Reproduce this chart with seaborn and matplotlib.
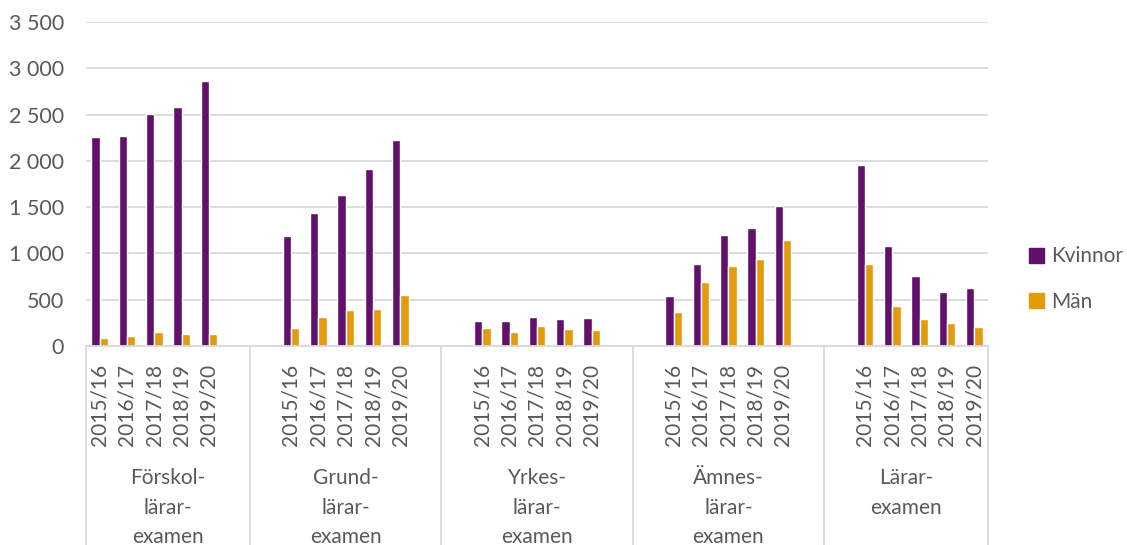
"""Examina inom lärarutbildningen per kön och läsår, stapeldiagram i Excel-stil."""

import matplotlib

matplotlib.use("Agg")
import matplotlib.pyplot as plt
import matplotlib.ticker as mticker
import matplotlib.transforms as mtransforms
from matplotlib.lines import Line2D
import pandas as pd
import seaborn as sns


YEARS = ["2015/16", "2016/17", "2017/18", "2018/19", "2019/20"]
GROUPS = [
    "Förskol-\nlärar-\nexamen",
    "Grund-\nlärar-\nexamen",
    "Yrkes-\nlärar-\nexamen",
    "Ämnes-\nlärar-\nexamen",
    "Lärar-\nexamen",
]
SERIES = ["Kvinnor", "Män"]

KVINNOR_FORSKOL = [2255, 2270, 2505, 2580, 2865]
MAN_FORSKOL = [90, 105, 150, 127, 127]
KVINNOR_GRUND = [1192, 1432, 1635, 1910, 2228]
MAN_GRUND = [192, 315, 390, 402, 555]
KVINNOR_YRKES = [265, 272, 315, 293, 300]
MAN_YRKES = [190, 155, 220, 184, 170]
KVINNOR_AMNES = [540, 890, 1195, 1275, 1512]
MAN_AMNES = [372, 690, 862, 942, 1145]
KVINNOR_LARAR = [1952, 1080, 755, 582, 625]
MAN_LARAR = [885, 437, 292, 250, 206]

KVINNOR = [KVINNOR_FORSKOL, KVINNOR_GRUND, KVINNOR_YRKES, KVINNOR_AMNES, KVINNOR_LARAR]
MAN = [MAN_FORSKOL, MAN_GRUND, MAN_YRKES, MAN_AMNES, MAN_LARAR]

COLORS = {"Kvinnor": "#63106D", "Män": "#E39B0C"}
GREY = "#D9D9D9"
TEXT = "#595959"


def build_slots():
    # Excel-style layout: empty category slots between the groups
    slots, labels, bounds = [], [], [-0.5]
    for gi in range(len(GROUPS)):
        if gi > 0:
            slots.append(f"{gi}|pre")
            labels.append("")
        for year in YEARS:
            slots.append(f"{gi}|{year}")
            labels.append(year)
        if gi < len(GROUPS) - 1:
            slots.append(f"{gi}|post")
            labels.append("")
        bounds.append(len(slots) - 0.5)
    return slots, labels, bounds


def build_dataframe() -> pd.DataFrame:
    rows = []
    for gi in range(len(GROUPS)):
        for yi, year in enumerate(YEARS):
            rows.append({"slot": f"{gi}|{year}", "Kön": "Kvinnor", "antal": KVINNOR[gi][yi]})
            rows.append({"slot": f"{gi}|{year}", "Kön": "Män", "antal": MAN[gi][yi]})
    return pd.DataFrame(rows)


def main() -> None:
    sns.set_theme(style="white")
    plt.rcParams["font.family"] = ["Lato", "DejaVu Sans"]

    slots, labels, bounds = build_slots()
    df = build_dataframe()

    W, H = 1127, 545
    fig = plt.figure(figsize=(W / 100, H / 100), dpi=100)
    left, right, top, bottom = 86, 988, 22, 346
    ax = fig.add_axes([left / W, 1 - bottom / H, (right - left) / W, (bottom - top) / H])

    sns.barplot(
        data=df,
        x="slot",
        y="antal",
        hue="Kön",
        order=slots,
        hue_order=SERIES,
        palette=COLORS,
        width=0.6,
        gap=0,
        errorbar=None,
        saturation=1,
        ax=ax,
        legend=False,
    )

    ax.set_xlim(-0.5, len(slots) - 0.5)
    ax.set_ylim(0, 3500)
    ax.yaxis.set_major_locator(mticker.MultipleLocator(500))
    ax.yaxis.set_major_formatter(mticker.FuncFormatter(lambda v, _: f"{int(v):,}".replace(",", " ")))
    ax.set_xticks(range(len(slots)))
    ax.set_xticklabels(labels, rotation=90)
    ax.tick_params(axis="x", length=0, pad=13, labelsize=15, labelcolor=TEXT)
    ax.tick_params(axis="y", length=0, pad=16, labelsize=15.5, labelcolor=TEXT)
    ax.set_xlabel("")
    ax.set_ylabel("")

    ax.yaxis.grid(True, color=GREY, linewidth=1.3)
    ax.xaxis.grid(False)
    ax.set_axisbelow(True)
    for side in ["left", "top", "right"]:
        ax.spines[side].set_visible(False)
    ax.spines["bottom"].set_color(GREY)
    ax.spines["bottom"].set_linewidth(1.3)

    # multi-level category axis: separators and group names
    trans = mtransforms.blended_transform_factory(ax.transData, ax.transAxes)
    px = 1 / (bottom - top)
    for b in bounds:
        ax.add_line(Line2D([b, b], [0, -(H - bottom) * px], transform=trans,
                           color=GREY, linewidth=1.3, clip_on=False))
    for gi, name in enumerate(GROUPS):
        xc = (bounds[gi] + bounds[gi + 1]) / 2
        ax.text(xc, -(468 - bottom) * px, name, transform=trans, ha="center", va="top",
                fontsize=15, color=TEXT, linespacing=1.6)

    handles = [plt.Rectangle((0, 0), 1, 1, color=COLORS[s]) for s in SERIES]
    fig.legend(
        handles,
        SERIES,
        loc="center left",
        bbox_to_anchor=(1029 / W, 1 - 279 / H),
        frameon=False,
        fontsize=15,
        labelcolor=TEXT,
        handlelength=0.7,
        handleheight=0.7,
        handletextpad=0.35,
        labelspacing=1.2,
        borderpad=0,
        borderaxespad=0,
    )

    fig.savefig("out.png", dpi=100)
    plt.close(fig)


if __name__ == "__main__":
    main()
